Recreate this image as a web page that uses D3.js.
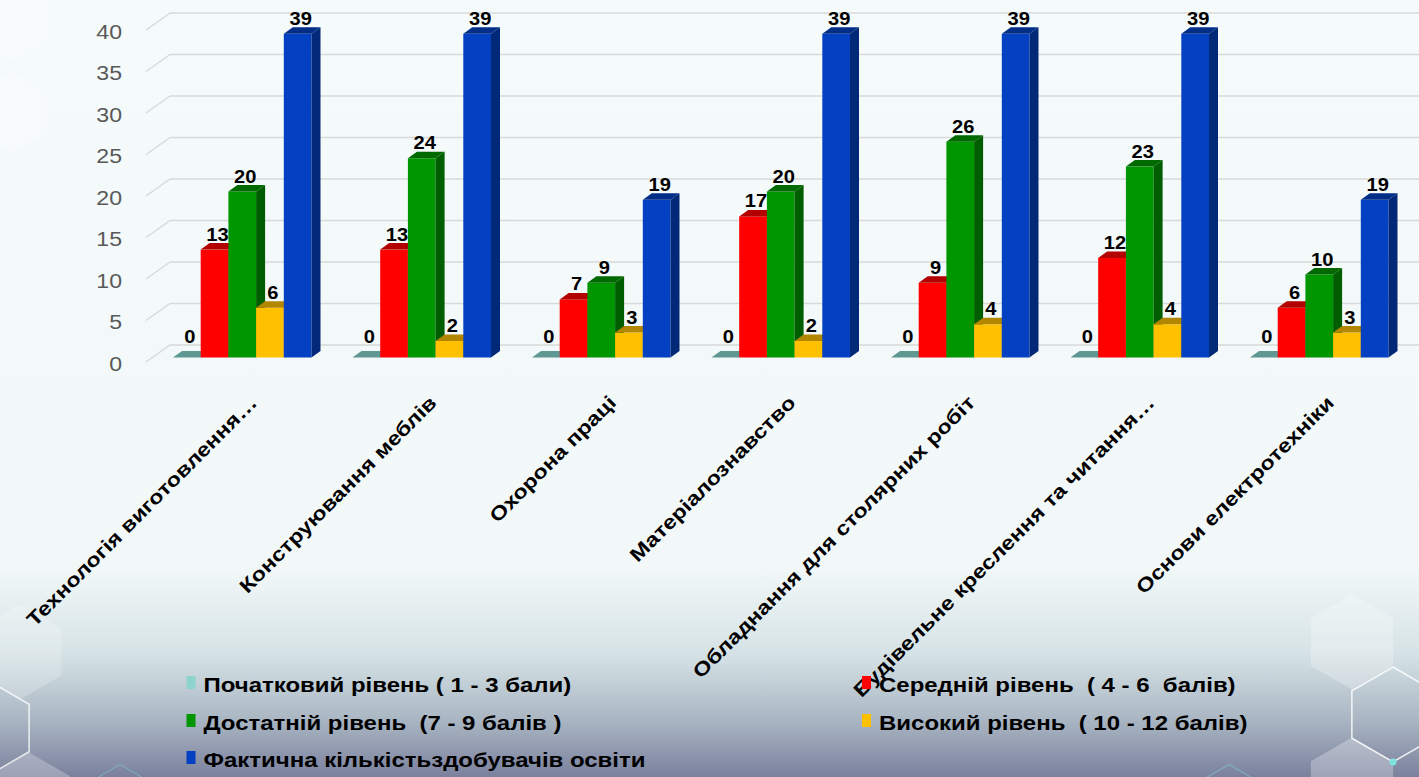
<!DOCTYPE html>
<html>
<head>
<meta charset="utf-8">
<script src="https://cdn.jsdelivr.net/npm/d3@7"></script>
<style>
  html, body { margin: 0; padding: 0; overflow: hidden; }
  svg { display: block; }
  text { font-family: "Liberation Sans", Arial, sans-serif; white-space: pre; }
</style>
</head>
<body>
<svg id="chart" width="1419" height="777"></svg>
<script>
// ---------------- data ----------------
const categories = [
  "Технологія виготовлення…",
  "Конструювання меблів",
  "Охорона праці",
  "Матеріалознавство",
  "Обладнання для столярних робіт",
  "Будівельне креслення та читання…",
  "Основи електротехніки"
];
const seriesNames = [
  "Початковий рівень ( 1 - 3 бали)",
  "Середній рівень  ( 4 - 6  балів)",
  "Достатній рівень  (7 - 9 балів )",
  "Високий рівень  ( 10 - 12 балів)",
  "Фактична кількістьздобувачів освіти"
];
const initialLevel    = [0, 0, 0, 0, 0, 0, 0];
const averageLevel    = [13, 13, 7, 17, 9, 12, 6];
const sufficientLevel = [20, 24, 9, 20, 26, 23, 10];
const highLevel       = [6, 2, 3, 2, 4, 4, 3];
const actualCount     = [39, 39, 19, 39, 39, 39, 19];
const yTicks = [0, 5, 10, 15, 20, 25, 30, 35, 40];
const seriesColors = ["#8dd4cc", "#ff0000", "#009600", "#ffc000", "#0341c2"];

const seriesValues = [initialLevel, averageLevel, sufficientLevel, highLevel, actualCount];

// ---------------- layout ----------------
const W = 1419, H = 777;
const svg = d3.select("#chart");
const defs = svg.append("defs");

// background gradient
const bg = defs.append("linearGradient").attr("id", "bg").attr("x1", 0).attr("y1", 0).attr("x2", 0).attr("y2", 1);
[[0, "#f5fafa"], [0.73, "#f2f8f8"], [0.84, "#d6e3e6"], [0.92, "#adbac6"], [1, "#7b819d"]]
  .forEach(([o, c]) => bg.append("stop").attr("offset", o).attr("stop-color", c));
svg.append("rect").attr("width", W).attr("height", H).attr("fill", "url(#bg)");

// decorative hexagons
function hexPath(cx, cy, r) {
  const pts = d3.range(6).map(i => {
    const a = Math.PI / 180 * (60 * i - 90);
    return [cx + r * Math.cos(a), cy + r * Math.sin(a)];
  });
  return "M" + pts.map(p => p.join(",")).join("L") + "Z";
}
const deco = svg.append("g");
deco.append("path").attr("d", hexPath(1352, 642, 47.5)).attr("fill", "#ffffff").attr("opacity", 0.25);
deco.append("path").attr("d", hexPath(1352, 785, 47.5)).attr("fill", "#ffffff").attr("opacity", 0.28);
deco.append("path").attr("d", hexPath(1393, 714.5, 47.5)).attr("fill", "none").attr("stroke", "#ffffff").attr("stroke-width", 1.5).attr("opacity", 0.85);
deco.append("circle").attr("cx", 1393).attr("cy", 762).attr("r", 3.5).attr("fill", "#7fe3e0");
deco.append("path").attr("d", hexPath(1229, 812, 47.5)).attr("fill", "none").attr("stroke", "#7fd0d6").attr("stroke-width", 1).attr("opacity", 0.7);
deco.append("path").attr("d", hexPath(-12, 728, 47.5)).attr("fill", "none").attr("stroke", "#ffffff").attr("stroke-width", 1.5).attr("opacity", 0.8);
deco.append("path").attr("d", hexPath(29, 800, 47.5)).attr("fill", "#ffffff").attr("opacity", 0.25);
deco.append("path").attr("d", hexPath(20, 652, 47.5)).attr("fill", "#ffffff").attr("opacity", 0.2);
deco.append("path").attr("d", hexPath(120, 812, 47.5)).attr("fill", "none").attr("stroke", "#7fd0d6").attr("stroke-width", 1).attr("opacity", 0.6);
deco.append("path").attr("d", hexPath(12, 22, 40)).attr("fill", "#ffffff").attr("opacity", 0.3);
deco.append("path").attr("d", hexPath(12, 112, 40)).attr("fill", "#ffffff").attr("opacity", 0.3);

// scales
const y = d3.scaleLinear().domain([0, 40]).range([357.5, 25.5]);
const backOff = -12.5, frontOff = 4.5;
const x0 = d3.scaleBand().domain(categories).range([152.5, 1409]).paddingInner(0.2284).paddingOuter(0.1142);
const x1 = d3.scaleBand().domain(d3.range(5)).range([0, x0.bandwidth()]).padding(0);
const dx = 9, dy = -6.5;

// gridlines (back wall + left diagonal)
const grid = svg.append("g");
yTicks.forEach(t => {
  const yb = y(t) + backOff, yf = y(t) + frontOff;
  grid.append("line").attr("x1", 170).attr("x2", W).attr("y1", yb).attr("y2", yb)
    .attr("stroke", "#d9d9d9").attr("stroke-width", 1.5);
  grid.append("line").attr("x1", 146).attr("x2", 170).attr("y1", yf).attr("y2", yb)
    .attr("stroke", "#d9d9d9").attr("stroke-width", 1.5);
});

// y axis labels
svg.append("g").selectAll("text").data(yTicks).join("text")
  .attr("transform", d => `translate(122,${y(d) + frontOff + 1}) scale(1.1,1)`)
  .attr("dy", "0.36em")
  .attr("text-anchor", "end").attr("font-size", 21).attr("fill", "#595959")
  .text(d => d);

// bars
function shade(c, k) { const r = d3.rgb(c); return d3.rgb(r.r * k, r.g * k, r.b * k).formatHex(); }
const barsG = svg.append("g");
const labelsG = svg.append("g");
categories.forEach((cat, gi) => {
  const g = barsG.append("g");
  seriesValues.forEach((vals, si) => {
    const v = vals[gi];
    const bx = x0(cat) + x1(si), w = x1.bandwidth();
    const yt = y(v), yb0 = y(0);
    const col = seriesColors[si];
    const topCol = si === 0 ? "#5f9892" : shade(col, 0.7);
    const sideCol = shade(col, 0.62);
    if (v > 0) {
      g.append("rect").attr("x", bx).attr("y", yt).attr("width", w).attr("height", yb0 - yt).attr("fill", col);
      g.append("path").attr("d", `M${bx + w},${yt}L${bx + w + dx},${yt + dy}L${bx + w + dx},${yb0 + dy}L${bx + w},${yb0}Z`).attr("fill", sideCol);
    }
    g.append("path").attr("d", `M${bx},${yt}L${bx + dx},${yt + dy}L${bx + w + dx},${yt + dy}L${bx + w},${yt}Z`).attr("fill", topCol);
    labelsG.append("text")
      .attr("transform", `translate(${bx + w / 2 + 3},${v === 0 ? yt - 15 : yt - 9}) scale(1.06,1)`)
      .attr("text-anchor", "middle").attr("font-size", 19).attr("font-weight", "bold").attr("fill", "#000")
      .text(v);
  });
});

// x axis labels
svg.append("g").selectAll("text").data(categories).join("text")
  .attr("transform", d => `translate(${x0(d) + x0.bandwidth() / 2 + 16},${404}) rotate(-45) scale(1.2,1)`)
  .attr("text-anchor", "end").attr("font-size", 19.5).attr("font-weight", "bold").attr("fill", "#000")
  .text(d => d);

// legend
const legendPos = [[186.5, 685], [862, 685], [186.5, 723], [862, 723], [186.5, 760]];
const lg = svg.append("g");
seriesNames.forEach((name, i) => {
  const [lx, ly] = legendPos[i];
  lg.append("rect").attr("x", lx).attr("y", ly - 9).attr("width", 9).attr("height", 13).attr("fill", seriesColors[i]);
  lg.append("text").attr("transform", `translate(${lx + 17},${ly}) scale(1.23,1)`).attr("dy", "0.36em")
    .attr("font-size", 19.5).attr("font-weight", "bold").attr("fill", "#000").text(name);
});
</script>
</body>
</html>
